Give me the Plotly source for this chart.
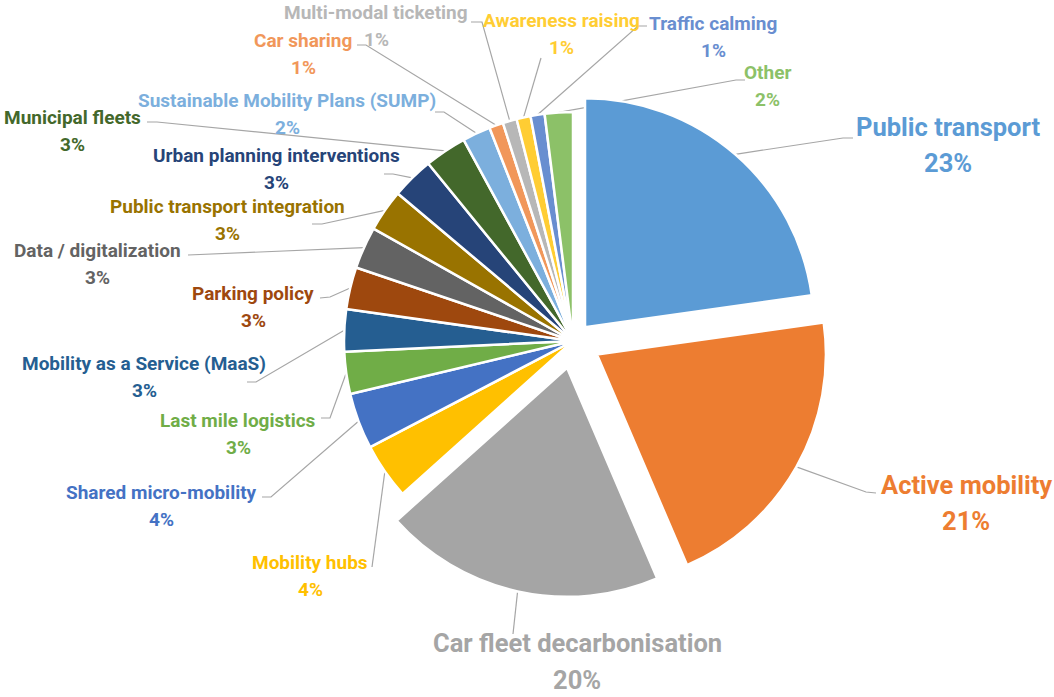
import math
import plotly.graph_objects as go

# Shares of measures (percent)
categories = [
    "Public transport", "Active mobility", "Car fleet decarbonisation",
    "Mobility hubs", "Shared micro-mobility", "Last mile logistics",
    "Mobility as a Service (MaaS)", "Parking policy", "Data / digitalization",
    "Public transport integration", "Urban planning interventions",
    "Municipal fleets", "Sustainable Mobility Plans (SUMP)", "Car sharing",
    "Multi-modal ticketing", "Awareness raising", "Traffic calming", "Other",
]
values = [23, 21, 20, 4, 4, 3, 3, 3, 3, 3, 3, 3, 2, 1, 1, 1, 1, 2]

colors = [
    "#5B9BD5", "#ED7D31", "#A5A5A5", "#FFC000", "#4472C4", "#70AD47",
    "#255E91", "#9E480E", "#636363", "#997300", "#264478", "#43682B",
    "#7CAFDD", "#F1975A", "#B7B7B7", "#FFCD33", "#698ED0", "#8CC168",
]
pulls = [0.08, 0.12, 0.12] + [0] * 15

# Canvas and pie geometry (pixels)
W, H = 1054, 697
CX, CY, R = 573, 341, 229

# Label layout: name centre (x, y), font size, leader end points
label_pos = [
    (948, 127), (966, 485), (577, 643), (310, 562), (161, 492), (238, 420),
    (144, 363), (253, 293), (97, 250), (227, 206), (276, 155), (72, 117),
    (287, 100), (303, 40), (376, 12), (561, 20), (713, 23), (767, 72),
]
label_size = [25.5, 25.5, 25.5] + [19] * 15
pct_gap = [36, 36, 37] + [27] * 15
leader_pts = [
    [(843, 138), (853, 138)],
    [(866, 492), (876, 493)],
    [(513, 634)],
    [(372, 567)],
    [(271, 497), (262, 497)],
    [(330, 418), (321, 418)],
    [(256, 382), (247, 382)],
    [(330, 297), (320, 298)],
    [(197, 254), (188, 255)],
    [(322, 224), (312, 224)],
    [(393, 174), (384, 174)],
    [(157, 122), (147, 122)],
    [(444, 112), (435, 112)],
    [(366, 45), (357, 45)],
    [(482, 22), (471, 22)],
    [(541, 58)],
    [(638, 26), (647, 26)],
    [(736, 80), (745, 80)],
]

total = sum(values)
max_pull = max(pulls)
side = 2 * R * (1 + max_pull)

fig = go.Figure()
fig.add_trace(go.Pie(
    labels=categories,
    values=values,
    sort=False,
    direction="clockwise",
    rotation=0,
    pull=pulls,
    marker=dict(colors=colors, line=dict(color="white", width=2.5)),
    textinfo="none",
    hoverinfo="label+percent",
    showlegend=False,
    domain=dict(
        x=[(CX - side / 2) / W, (CX + side / 2) / W],
        y=[1 - (CY + side / 2) / H, 1 - (CY - side / 2) / H],
    ),
))

# Leader lines from each slice's outer arc midpoint to its label
lx, ly = [], []
cum = 0
for v, p, pts in zip(values, pulls, leader_pts):
    mid = math.radians((cum + v / 2) / total * 360)
    cum += v
    s, c = math.sin(mid), math.cos(mid)
    ox, oy = CX + p * R * s, CY - p * R * c
    ax, ay = ox + R * s, oy - R * c
    lx.append(ax)
    ly.append(ay)
    for x, y in pts:
        lx.append(x)
        ly.append(y)
    lx.append(None)
    ly.append(None)

fig.add_trace(go.Scatter(
    x=lx, y=ly, mode="lines",
    line=dict(color="#A6A6A6", width=1.2),
    hoverinfo="skip", showlegend=False,
))

annotations = []
for name, v, col, (x, y), fs, gap in zip(categories, values, colors, label_pos, label_size, pct_gap):
    pct = f"{round(v / total * 100)}%"
    for txt, yy in ((name, y), (pct, y + gap)):
        annotations.append(dict(
            x=x, y=yy, xref="x", yref="y", text=txt, showarrow=False,
            xanchor="center", yanchor="middle",
            font=dict(family="Roboto", size=fs, color=col, weight="bold"),
        ))

fig.update_layout(
    width=W, height=H,
    margin=dict(l=0, r=0, t=0, b=0),
    paper_bgcolor="white", plot_bgcolor="rgba(0,0,0,0)",
    xaxis=dict(range=[0, W], visible=False, fixedrange=True, domain=[0, 1]),
    yaxis=dict(range=[H, 0], visible=False, fixedrange=True, domain=[0, 1]),
    annotations=annotations,
)

fig.write_html("out.html")
